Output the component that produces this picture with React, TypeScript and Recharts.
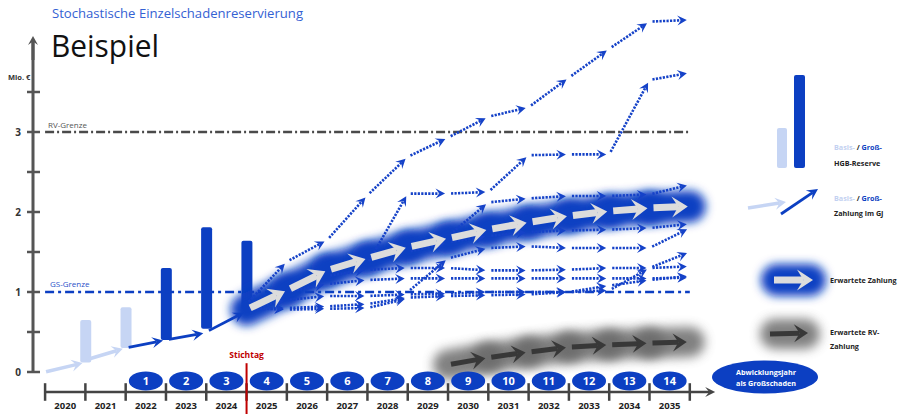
import { Bar, Cell, ComposedChart, ReferenceLine, XAxis, YAxis } from 'recharts'

const FONT = "'Open Sans', 'Liberation Sans', sans-serif"
const BLUE = '#0c3fc2'
const LIGHT = '#c6d5f4'
const DOT = '#1542c8'
const AXIS = '#555555'

// Zeitachse
const years = [2020, 2021, 2022, 2023, 2024, 2025, 2026, 2027, 2028, 2029, 2030, 2031, 2032, 2033, 2034, 2035]
const firstLargeYear = 2022
const yTicks = [0, 0.5, 1, 1.5, 2, 2.5, 3, 3.5]

// HGB-Reserve (Basis / Groß), Mio. €
const reserveYears = [2021, 2022, 2023, 2024, 2025]
const reserveLow = [0.12, 0.3, 0.4, 0.54, 0.78]
const reserveHigh = [0.65, 0.81, 1.3, 1.81, 1.64]
const reserveKind = ['Basis', 'Basis', 'Groß', 'Groß', 'Groß']

// Zahlung im GJ
const paymentYears = [2020, 2021, 2022, 2023, 2024]
const paymentFrom = [0, 0.15, 0.3, 0.4, 0.5]
const paymentTo = [0.12, 0.3, 0.4, 0.49, 0.76]
const paymentKind = ['Basis', 'Basis', 'Groß', 'Groß', 'Groß']

// erwartete Zahlung / erwartete RV-Zahlung
const expectedStart = 2025
const expectedValues = [0.78, 1.02, 1.27, 1.42, 1.56, 1.67, 1.78, 1.87, 1.95, 2.01, 2.05, 2.07]
const rvStart = 2030
const rvValues = [0.09, 0.18, 0.25, 0.31, 0.34, 0.36, 0.375]

// stochastische Pfade
const pathStarts = [2025, 2028, 2030, 2029, 2027, 2025, 2025, 2025, 2025, 2029]
const pathA = [0.85, 1.38, 1.65, 2.21, 2.69, 2.93, 3.19, 3.31, 3.68, 4.04, 4.38, 4.4]
const pathB = [1.35, 2.23, 2.23, 2.25, 2.71, 2.72, 2.72, 3.65, 3.74]
const pathC = [1.7, 2.12, 2.17, 2.2, 2.2, 2.22, 2.34]
const pathD = [1.0, 1.42, 1.55, 1.57, 1.55, 1.55, 1.55, 1.8]
const pathE = [1.2, 1.28, 1.3, 1.3, 1.27, 1.27, 1.28, 1.3, 1.3, 1.5]
const pathF = [0.8, 1.0, 1.1, 1.15, 1.17, 1.17, 1.17, 1.17, 1.17, 1.17, 1.17, 1.18]
const pathG = [0.78, 0.9, 0.95, 0.95, 0.97, 0.98, 1.0, 1.0, 1.0, 1.02, 1.3, 1.32]
const pathH = [0.78, 0.8, 0.82, 0.85, 0.93, 0.95, 0.96, 0.97, 1.0, 1.08, 1.15, 1.2]
const pathI = [0.8, 0.78, 0.79, 0.8, 0.92]
const pathJ = [1.5, 1.62, 1.7, 1.75, 1.77, 1.78, 1.8, 1.85]
const dottedPaths = [pathA, pathB, pathC, pathD, pathE, pathF, pathG, pathH, pathI, pathJ]

const rvLimit = 3
const gsLimit = 1
const stichtag = 2025
const timelineY = -0.25

const barData = reserveYears.map((x, i) => ({ x, range: [reserveLow[i], reserveHigh[i]], kind: reserveKind[i] }))
const xTicks = years.map((y) => y + 0.5)
const boundaries = [...years, years[years.length - 1] + 1]

type Pt = { x: number; y: number }
const toSegments = (start: number, vals: number[]): [Pt, Pt][] =>
  vals.slice(1).map((v, i) => [{ x: start + i, y: vals[i] }, { x: start + i + 1, y: v }])

type ArrowStyle = { color: string; width: number; head: number; half: number; dash?: string; gap?: number; end?: number }

const drawArrow = (s: ArrowStyle, x1: number, y1: number, x2: number, y2: number) => {
  const dx = x2 - x1
  const dy = y2 - y1
  const len = Math.hypot(dx, dy) || 1
  const ux = dx / len
  const uy = dy / len
  const nx = -uy
  const ny = ux
  const g = s.gap ?? 0
  const e = s.end ?? 0
  const sx = x1 + ux * g
  const sy = y1 + uy * g
  const tx = x2 - ux * e
  const ty = y2 - uy * e
  const bx = tx - ux * s.head
  const by = ty - uy * s.head
  const mx = tx - ux * s.head * 0.6
  const my = ty - uy * s.head * 0.6
  const pts = `${tx},${ty} ${bx + nx * s.half},${by + ny * s.half} ${mx},${my} ${bx - nx * s.half},${by - ny * s.half}`
  return (
    <g>
      <line x1={sx} y1={sy} x2={mx} y2={my} stroke={s.color} strokeWidth={s.width} strokeDasharray={s.dash} />
      <polygon points={pts} fill={s.color} />
    </g>
  )
}

const arrow = (s: ArrowStyle) => (p: any) => {
  if (![p.x1, p.y1, p.x2, p.y2].every(Number.isFinite)) return <g />
  return drawArrow(s, p.x1, p.y1, p.x2, p.y2)
}

const glow = (color: string, width: number, filter: string, opacity = 1) => (p: any) => (
  <line
    x1={p.x1}
    y1={p.y1}
    x2={p.x2}
    y2={p.y2}
    stroke={color}
    strokeWidth={width}
    strokeLinecap="round"
    opacity={opacity}
    filter={`url(#${filter})`}
  />
)

const lightArrow: ArrowStyle = { color: LIGHT, width: 3.5, head: 11, half: 6, gap: 1, end: 3 }
const darkArrow: ArrowStyle = { color: BLUE, width: 2.8, head: 11, half: 5.5, gap: 3, end: 3 }
const dottedArrow: ArrowStyle = { color: DOT, width: 2.6, head: 9.5, half: 5, dash: '2.2 1.3', gap: 3, end: 3 }
const whiteArrow: ArrowStyle = { color: '#dcdcdc', width: 7, head: 16, half: 10.5, gap: 4, end: 2 }
const grayArrow: ArrowStyle = { color: '#383838', width: 5, head: 14, half: 9, gap: 3, end: 3 }
const axisArrow: ArrowStyle = { color: '#444', width: 2.5, head: 10, half: 5 }

function YTick(props: any) {
  const { x, y, payload } = props
  const v = payload.value
  return (
    <g>
      <line x1={x - 6} x2={x + 7} y1={y} y2={y} stroke={AXIS} strokeWidth={2.5} />
      {Number.isInteger(v) && (
        <text x={x - 12} y={y + 3.5} textAnchor="end" fontSize={10} fontWeight={700} fill="#333" fontFamily={FONT}>
          {v}
        </text>
      )}
    </g>
  )
}

function YearTick(props: any) {
  const { x, y, payload } = props
  const year = Math.floor(payload.value)
  const n = year - firstLargeYear + 1
  return (
    <g>
      {n >= 1 && (
        <g>
          <ellipse cx={x} cy={y + 9} rx={17} ry={9.5} fill={BLUE} />
          <text x={x} y={y + 13} textAnchor="middle" fill="#fff" fontSize={11} fontWeight={700} fontFamily={FONT}>
            {n}
          </text>
        </g>
      )}
      <text x={x} y={y + 37} textAnchor="middle" fontSize={9.5} fontWeight={700} fill="#222" fontFamily={FONT}>
        {year}
      </text>
    </g>
  )
}

const legendText = { fontSize: 7.2, fontWeight: 700, fontFamily: FONT, fill: '#222' }

export default function App() {
  const paymentSegs = paymentYears.map((x, i) => [
    { x, y: paymentFrom[i] },
    { x: x + 1, y: paymentTo[i] },
  ])
  const expectedSegs = toSegments(expectedStart, expectedValues)
  const rvSegs = toSegments(rvStart, rvValues)
  const dottedSegs = dottedPaths.flatMap((vals, i) => toSegments(pathStarts[i], vals))

  return (
    <div style={{ position: 'absolute', left: 0, top: 0, width: 900, height: 414, background: '#fff' }}>
      <svg width={0} height={0} style={{ position: 'absolute' }}>
        <defs>
          <filter id="blurBlue" filterUnits="userSpaceOnUse" x={-50} y={-50} width={1000} height={520}>
            <feGaussianBlur stdDeviation={5} />
          </filter>
          <filter id="blurGray" filterUnits="userSpaceOnUse" x={-50} y={-50} width={1000} height={520}>
            <feGaussianBlur stdDeviation={5.5} />
          </filter>
        </defs>
      </svg>
      <ComposedChart width={900} height={414} data={barData} margin={{ top: 40, right: 182, bottom: 0, left: 0 }}>
        <XAxis
          type="number"
          dataKey="x"
          domain={[2019.7, 2036.7]}
          ticks={xTicks}
          interval={0}
          tick={YearTick}
          axisLine={false}
          tickLine={false}
          tickSize={0}
          tickMargin={0}
          height={42}
          allowDataOverflow
        />
        <YAxis
          type="number"
          domain={[0, 4.15]}
          ticks={yTicks}
          interval={0}
          width={33}
          tick={YTick}
          tickLine={false}
          tickSize={0}
          tickMargin={0}
          axisLine={{ stroke: AXIS, strokeWidth: 3 }}
          allowDataOverflow
        />
        <ReferenceLine
          segment={[{ x: 2020, y: rvLimit }, { x: 2036, y: rvLimit }]}
          stroke="#4a4a4a"
          strokeWidth={2.5}
          strokeDasharray="9 3 2 3"
          ifOverflow="visible"
        />
        <ReferenceLine
          segment={[{ x: 2020, y: gsLimit }, { x: 2036, y: gsLimit }]}
          stroke={BLUE}
          strokeWidth={2.5}
          strokeDasharray="9 4 3 4"
          ifOverflow="visible"
        />
        <Bar dataKey="range" barSize={11} radius={2} isAnimationActive={false}>
          {barData.map((d) => (
            <Cell key={d.x} fill={d.kind === 'Basis' ? LIGHT : BLUE} />
          ))}
        </Bar>
        {paymentSegs.map((seg, i) => (
          <ReferenceLine
            key={`pay${i}`}
            segment={seg}
            ifOverflow="visible"
            shape={arrow(paymentKind[i] === 'Basis' ? lightArrow : darkArrow)}
          />
        ))}
        {expectedSegs.map((seg, i) => (
          <ReferenceLine key={`glow${i}`} segment={seg} ifOverflow="visible" shape={glow(BLUE, 32, 'blurBlue')} />
        ))}
        {dottedSegs.map((seg, i) => (
          <ReferenceLine key={`dot${i}`} segment={seg} ifOverflow="visible" shape={arrow(dottedArrow)} />
        ))}
        {expectedSegs.map((seg, i) => (
          <ReferenceLine key={`exp${i}`} segment={seg} ifOverflow="visible" shape={arrow(whiteArrow)} />
        ))}
        {rvSegs.map((seg, i) => (
          <ReferenceLine key={`rvg${i}`} segment={seg} ifOverflow="visible" shape={glow('#6b6b6b', 30, 'blurGray', 0.85)} />
        ))}
        {rvSegs.map((seg, i) => (
          <ReferenceLine key={`rv${i}`} segment={seg} ifOverflow="visible" shape={arrow(grayArrow)} />
        ))}
        <ReferenceLine
          segment={[{ x: 2020, y: timelineY }, { x: 2036.63, y: timelineY }]}
          ifOverflow="visible"
          shape={arrow(axisArrow)}
        />
        {boundaries.map((b) => (
          <ReferenceLine
            key={`tick${b}`}
            segment={[{ x: b, y: -0.14 }, { x: b, y: -0.36 }]}
            stroke="#444"
            strokeWidth={2.5}
            ifOverflow="visible"
          />
        ))}
        <ReferenceLine
          segment={[{ x: stichtag, y: 0.11 }, { x: stichtag, y: -0.6 }]}
          stroke="#c00000"
          strokeWidth={2}
          ifOverflow="visible"
          label={{ value: 'Stichtag', position: 'top', fill: '#c00000', fontSize: 8.5, fontWeight: 700, fontFamily: FONT }}
        />
        <ReferenceLine
          segment={[{ x: 2019.7, y: 3.9 }, { x: 2019.7, y: 4.2 }]}
          ifOverflow="visible"
          shape={arrow({ color: AXIS, width: 3, head: 9, half: 5 })}
        />
      </ComposedChart>
      <svg width={900} height={414} style={{ position: 'absolute', left: 0, top: 0, pointerEvents: 'none' }}>
        <text x={52} y={18} fontSize={13.5} fill="#3461d3" fontFamily={FONT} textLength={251} lengthAdjust="spacingAndGlyphs">
          Stochastische Einzelschadenreservierung
        </text>
        <text x={51} y={57} fontSize={31} fill="#111" fontFamily={FONT} textLength={108} lengthAdjust="spacingAndGlyphs">
          Beispiel
        </text>
        <text x={8} y={80} fontSize={7.5} fontWeight={700} fill="#333" fontFamily={FONT}>
          Mio. €
        </text>
        <text x={48} y={128} fontSize={8} fill="#555" fontFamily={FONT}>
          RV-Grenze
        </text>
        <text x={50} y={287} fontSize={8} fill="#2a4fc8" fontFamily={FONT}>
          GS-Grenze
        </text>

        <rect x={777} y={128} width={10} height={40} rx={2} fill={LIGHT} />
        <rect x={794} y={75} width={11} height={93} rx={2} fill={BLUE} />
        <text x={834} y={150} {...legendText}>
          <tspan fill="#c3d1f1">Basis-</tspan>
          <tspan fill="#222"> / </tspan>
          <tspan fill={BLUE}>Groß-</tspan>
        </text>
        <text x={834} y={166} {...legendText}>
          HGB-Reserve
        </text>

        {drawArrow({ ...lightArrow, gap: 0, end: 0 }, 748, 208, 786, 202)}
        {drawArrow({ ...darkArrow, gap: 0, end: 0 }, 781, 214, 818, 189)}
        <text x={834} y={201} {...legendText}>
          <tspan fill="#c3d1f1">Basis-</tspan>
          <tspan fill="#222"> / </tspan>
          <tspan fill={BLUE}>Groß-</tspan>
        </text>
        <text x={834} y={216} {...legendText}>
          Zahlung im GJ
        </text>

        <line x1={777} y1={280} x2={810} y2={280} stroke={BLUE} strokeWidth={32} strokeLinecap="round" filter="url(#blurBlue)" />
        {drawArrow({ ...whiteArrow, gap: 0, end: 0 }, 774, 280, 813, 280)}
        <text x={830} y={283} {...legendText}>
          Erwartete Zahlung
        </text>

        <line x1={775} y1={334} x2={805} y2={334} stroke="#6b6b6b" strokeWidth={30} strokeLinecap="round" opacity={0.85} filter="url(#blurGray)" />
        {drawArrow({ ...grayArrow, gap: 0, end: 0 }, 770, 334, 808, 333)}
        <text x={830} y={335} {...legendText}>
          Erwartete RV-
        </text>
        <text x={830} y={349} {...legendText}>
          Zahlung
        </text>

        <ellipse cx={765} cy={377} rx={53} ry={16.5} fill={BLUE} />
        <text x={766} y={375} textAnchor="middle" fontSize={7.2} fontWeight={700} fill="#fff" fontFamily={FONT}>
          Abwicklungsjahr
        </text>
        <text x={766} y={386} textAnchor="middle" fontSize={7.2} fontWeight={700} fill="#fff" fontFamily={FONT}>
          als Großschaden
        </text>
      </svg>
    </div>
  )
}
